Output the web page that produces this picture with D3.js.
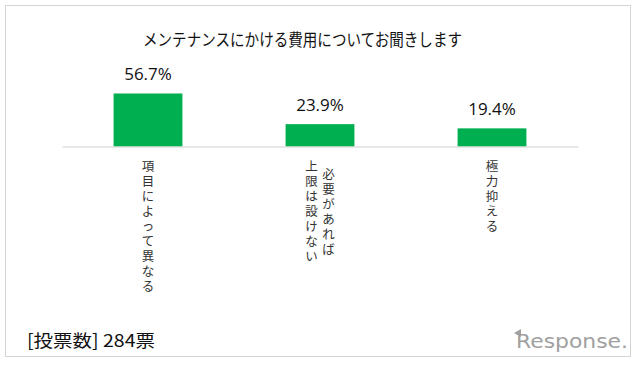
<!DOCTYPE html>
<html><head><meta charset="utf-8">
<script src="https://cdn.jsdelivr.net/npm/d3@7"></script>
<style>
html,body{margin:0;padding:0;background:#fff;}
svg{display:block;}
</style></head>
<body>
<svg id="chart" width="640" height="366"></svg>
<script>
const title = "メンテナンスにかける費用についてお聞きします";
const categories = ["項目によって異なる", "必要があれば上限は設けない", "極力抑える"];
// vertical label columns (right-to-left)
const categoryColumns = [["項目によって異なる"], ["必要があれば", "上限は設けない"], ["極力抑える"]];
const values = [56.7, 23.9, 19.4];
const valueLabels = ["56.7%", "23.9%", "19.4%"];
const footnote = "[投票数] 284票";

const svg = d3.select("#chart");
const FONT = "'Noto Sans CJK JP', 'Noto Sans', sans-serif";
const LABEL_FONT = "'Liberation Sans', 'Noto Sans CJK JP', sans-serif";

// frame
svg.append("rect").attr("x", 5.5).attr("y", 5.5).attr("width", 625).attr("height", 351)
  .attr("fill", "#fff").attr("stroke", "#d4d4d4").attr("stroke-width", 1);

const x = d3.scaleBand().domain(categories).range([62, 578]).paddingInner(0.6).paddingOuter(0.3);
const y = d3.scaleLinear().domain([0, 60]).range([146.5, 90.4]);

// title
svg.append("text").attr("x", 143).attr("y", 46)
  .attr("textLength", 319).attr("lengthAdjust", "spacingAndGlyphs")
  .attr("font-family", FONT).attr("font-size", 16.5).attr("fill", "#111").text(title);

// bars
svg.selectAll("rect.bar").data(values).join("rect").attr("class", "bar")
  .attr("x", (d, i) => x(categories[i]))
  .attr("width", x.bandwidth())
  .attr("y", d => y(d))
  .attr("height", d => y(0) - y(d))
  .attr("fill", "#00b050");

// axis baseline
const axis = svg.append("g").attr("transform", `translate(0,${y(0)})`)
  .call(d3.axisBottom(x).tickSize(0).tickFormat(""));
axis.select(".domain").attr("stroke", "#d0d0d0").attr("stroke-width", 1.2);

// value labels
svg.selectAll("text.val").data(values).join("text").attr("class", "val")
  .attr("x", (d, i) => x(categories[i]) + x.bandwidth() / 2)
  .attr("y", d => y(d) - 13)
  .attr("text-anchor", "middle")
  .attr("font-family", "'Open Sans', 'Noto Sans', sans-serif")
  .attr("font-size", 17).attr("fill", "#111")
  .text((d, i) => valueLabels[i]);

// vertical category labels (stacked characters)
const charStep = 15, colGap = 17, labelTop = 160;
categoryColumns.forEach((cols, i) => {
  const cx = x(categories[i]) + x.bandwidth() / 2;
  const maxLen = d3.max(cols, c => c.length);
  cols.forEach((col, j) => {
    const colX = cx + ((cols.length - 1) / 2 - j) * colGap;
    const offset = (maxLen - col.length) * charStep / 2;
    svg.append("g").selectAll("text").data(Array.from(col)).join("text")
      .attr("x", colX)
      .attr("y", (c, k) => labelTop + offset + k * charStep + 11)
      .attr("text-anchor", "middle")
      .attr("font-family", LABEL_FONT).attr("font-size", 12.5).attr("fill", "#333")
      .text(c => c);
  });
});

// footnote
svg.append("text").attr("x", 27).attr("y", 347)
  .attr("textLength", 128).attr("lengthAdjust", "spacingAndGlyphs")
  .attr("font-family", FONT).attr("font-size", 17.5).attr("fill", "#111").text(footnote);

// logo
const logo = svg.append("g");
logo.append("text").attr("x", 516).attr("y", 348)
  .attr("textLength", 112).attr("lengthAdjust", "spacingAndGlyphs")
  .attr("font-family", "'DejaVu Sans', sans-serif").attr("font-size", 19)
  .attr("fill", "#a0a0a0").text("Response.");
logo.append("path").attr("d", "M514,333 L521,329 L521,337 Z").attr("fill", "#a0a0a0");
</script>
</body></html>
